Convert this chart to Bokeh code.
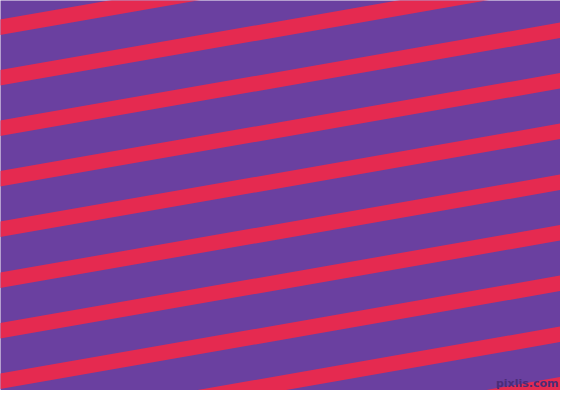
from bokeh.plotting import figure
from bokeh.models import Range1d, ColumnDataSource
from bokeh.embed import file_html
from bokeh.resources import INLINE
from bokeh.core.properties import value

# stripe top-edge heights (px from top) where each stripe meets the left edge
stripe_offsets = [-31, 19, 69.5, 120, 170.5, 221, 272, 322.5, 373, 424, 474.5]
stripe_slope = 0.175      # rise per px to the right
stripe_thickness = 15.5   # vertical thickness of a stripe
bg_color = "#6A40A0"
stripe_color = "#E52A50"
watermark = "pixlis.com"

p = figure(width=560, height=390, output_backend="svg", toolbar_location=None,
           x_range=Range1d(0, 560), y_range=Range1d(390, 0),
           min_border=0, min_border_left=0, min_border_right=0,
           min_border_top=0, min_border_bottom=0)
p.axis.visible = False
p.grid.visible = False
p.outline_line_color = None
p.background_fill_color = bg_color
p.border_fill_color = bg_color

x0, x1 = -20, 600
xs, ys = [], []
for b in stripe_offsets:
    xs.append([x0, x1, x1, x0])
    ys.append([b - stripe_slope * x0, b - stripe_slope * x1,
               b + stripe_thickness - stripe_slope * x1,
               b + stripe_thickness - stripe_slope * x0])
p.patches(xs=xs, ys=ys, fill_color=stripe_color, line_color=None)

src = ColumnDataSource(dict(x=[558], y=[389], t=[watermark]))
p.text(x="x", y="y", text="t", source=src, text_align="right",
       text_baseline="bottom", text_color="#4A2C78", text_font_size="11px",
       text_font=value("DejaVu Sans"), text_font_style="bold")

open("out.html", "w").write(file_html(p, INLINE))
